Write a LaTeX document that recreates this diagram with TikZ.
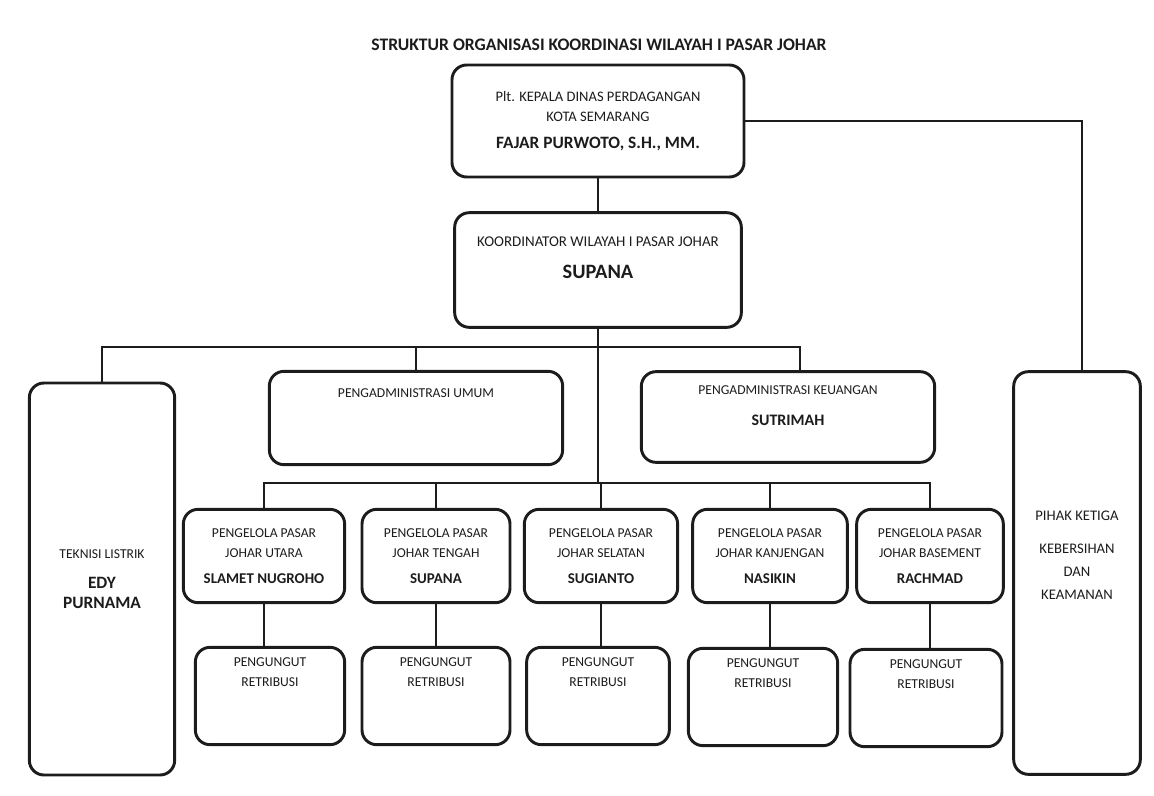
\documentclass[tikz,border=0pt]{standalone}
\usepackage{fontspec}
\setmainfont{Carlito}
\usetikzlibrary{positioning}
\usepackage{xcolor}
\definecolor{ChartInk}{HTML}{1C1C1C}
\tikzset{
    % Box styles - rounded corners
    unitbox/.style={
        rectangle,
        rounded corners=11pt,
        draw=ChartInk,
        line width=2.2pt,
        text=ChartInk,
        align=center,
        inner sep=2pt,
        font=\fontsize{10.2}{15}\selectfont
    },
    headbox/.style={
        unitbox,
        font=\fontsize{10.9}{15}\selectfont
    },
    tallbox/.style={
        unitbox,
        minimum width=96pt,
        minimum height=300pt
    },
    marketbox/.style={
        unitbox,
        minimum height=70pt
    },
    collectbox/.style={
        unitbox,
        minimum height=73pt
    },
    boxtext/.style={
        anchor=north,
        inner sep=0pt,
        align=center,
        text=ChartInk,
        font=\fontsize{10.2}{15}\selectfont
    },
    % Connector styles - straight lines only
    link/.style={
        draw=ChartInk,
        line width=1.5pt
    }
}

\begin{document}
\begin{tikzpicture}[x=0.75pt, y=-0.75pt]
    \useasboundingbox (0,0) rectangle (1154,796);

    \node[font=\bfseries\fontsize{13.2}{15}\selectfont, text=ChartInk] (title) at (599,45)
        {STRUKTUR ORGANISASI KOORDINASI WILAYAH I PASAR JOHAR};

    \node[headbox, minimum width=219pt, minimum height=84pt] (kepala) at (598,121)
        {Plt. KEPALA DINAS PERDAGANGAN\\KOTA SEMARANG\\[5pt]{\bfseries\fontsize{13}{16}\selectfont FAJAR PURWOTO, S.H., MM.}};

    \node[headbox, minimum width=215pt, minimum height=86pt, font=\fontsize{11.2}{15}\selectfont] (koord) at (598,270)
        {KOORDINATOR WILAYAH I PASAR JOHAR\\[9pt]{\bfseries\fontsize{15.3}{17}\selectfont SUPANA}\\[4pt]};

    \node[tallbox, minimum width=109pt, minimum height=294pt] (teknisi) at (102,579)
        {TEKNISI LISTRIK\\[8pt]{\bfseries\fontsize{13}{17}\selectfont EDY}\\{\bfseries\fontsize{13}{17}\selectfont PURNAMA}};

    \node[unitbox, minimum width=220pt, minimum height=70pt] (umum) at (416,418) {};
    \node[boxtext, below=14pt of umum.north] (umumtxt) {PENGADMINISTRASI UMUM};

    \node[unitbox, minimum width=220pt, minimum height=68pt] (keuangan) at (788,417)
        {PENGADMINISTRASI KEUANGAN\\[8pt]{\bfseries\fontsize{12}{14}\selectfont SUTRIMAH}\\[2pt]};

    \node[tallbox, minimum width=95pt, minimum height=302pt, font=\fontsize{11}{17}\selectfont] (pihak) at (1077,573)
        {PIHAK KETIGA\\[8pt]KEBERSIHAN\\DAN\\KEAMANAN\\[10pt]};

    % market managers
    \node[marketbox, minimum width=121pt] (utara) at (264,556)
        {PENGELOLA PASAR\\JOHAR UTARA\\[5pt]{\bfseries\fontsize{11.2}{14}\selectfont SLAMET NUGROHO}};
    \node[marketbox, minimum width=111pt] (tengah) at (436,556)
        {PENGELOLA PASAR\\JOHAR TENGAH\\[5pt]{\bfseries\fontsize{11.2}{14}\selectfont SUPANA}};
    \node[marketbox, minimum width=115pt] (selatan) at (601,556)
        {PENGELOLA PASAR\\JOHAR SELATAN\\[5pt]{\bfseries\fontsize{11.2}{14}\selectfont SUGIANTO}};
    \node[marketbox, minimum width=116pt] (kanjengan) at (770,556)
        {PENGELOLA PASAR\\JOHAR KANJENGAN\\[5pt]{\bfseries\fontsize{11.2}{14}\selectfont NASIKIN}};
    \node[marketbox, minimum width=110pt] (basement) at (930,556)
        {PENGELOLA PASAR\\JOHAR BASEMENT\\[5pt]{\bfseries\fontsize{11.2}{14}\selectfont RACHMAD}};

    % fee collectors
    \node[collectbox, minimum width=112pt] (pungut1) at (270,696) {};
    \node[collectbox, minimum width=111pt] (pungut2) at (436,696) {};
    \node[collectbox, minimum width=107pt] (pungut3) at (598,696) {};
    \node[collectbox, minimum width=112pt] (pungut4) at (763,697) {};
    \node[collectbox, minimum width=114pt] (pungut5) at (926,698) {};
    \node[boxtext, below=9pt of pungut1.north] (pungut1txt) {PENGUNGUT\\RETRIBUSI};
    \node[boxtext, below=9pt of pungut2.north] (pungut2txt) {PENGUNGUT\\RETRIBUSI};
    \node[boxtext, below=9pt of pungut3.north] (pungut3txt) {PENGUNGUT\\RETRIBUSI};
    \node[boxtext, below=9pt of pungut4.north] (pungut4txt) {PENGUNGUT\\RETRIBUSI};
    \node[boxtext, below=9pt of pungut5.north] (pungut5txt) {PENGUNGUT\\RETRIBUSI};

    \coordinate (staffbus) at (598,347);
    \coordinate (marketbus) at (598,483);

    \draw[link] (kepala.south) -- (koord.north);
    \draw[link] (kepala.east) -| ([xshift=4pt]pihak.north);
    \draw[link] (koord.south) -- (marketbus);
    \draw[link] (teknisi.north) |- (staffbus);
    \draw[link] (umum.north) |- (staffbus);
    \draw[link] ([xshift=9pt]keuangan.north) |- (staffbus);

    \draw[link] (utara.north) |- (marketbus);
    \draw[link] (tengah.north) |- (marketbus);
    \draw[link] (selatan.north) |- (marketbus);
    \draw[link] (kanjengan.north) |- (marketbus);
    \draw[link] (basement.north) |- (marketbus);

    \draw[link] (utara.south) -- (utara.south |- pungut1.north);
    \draw[link] (tengah.south) -- (tengah.south |- pungut2.north);
    \draw[link] (selatan.south) -- (selatan.south |- pungut3.north);
    \draw[link] (kanjengan.south) -- (kanjengan.south |- pungut4.north);
    \draw[link] (basement.south) -- (basement.south |- pungut5.north);
\end{tikzpicture}
\end{document}
